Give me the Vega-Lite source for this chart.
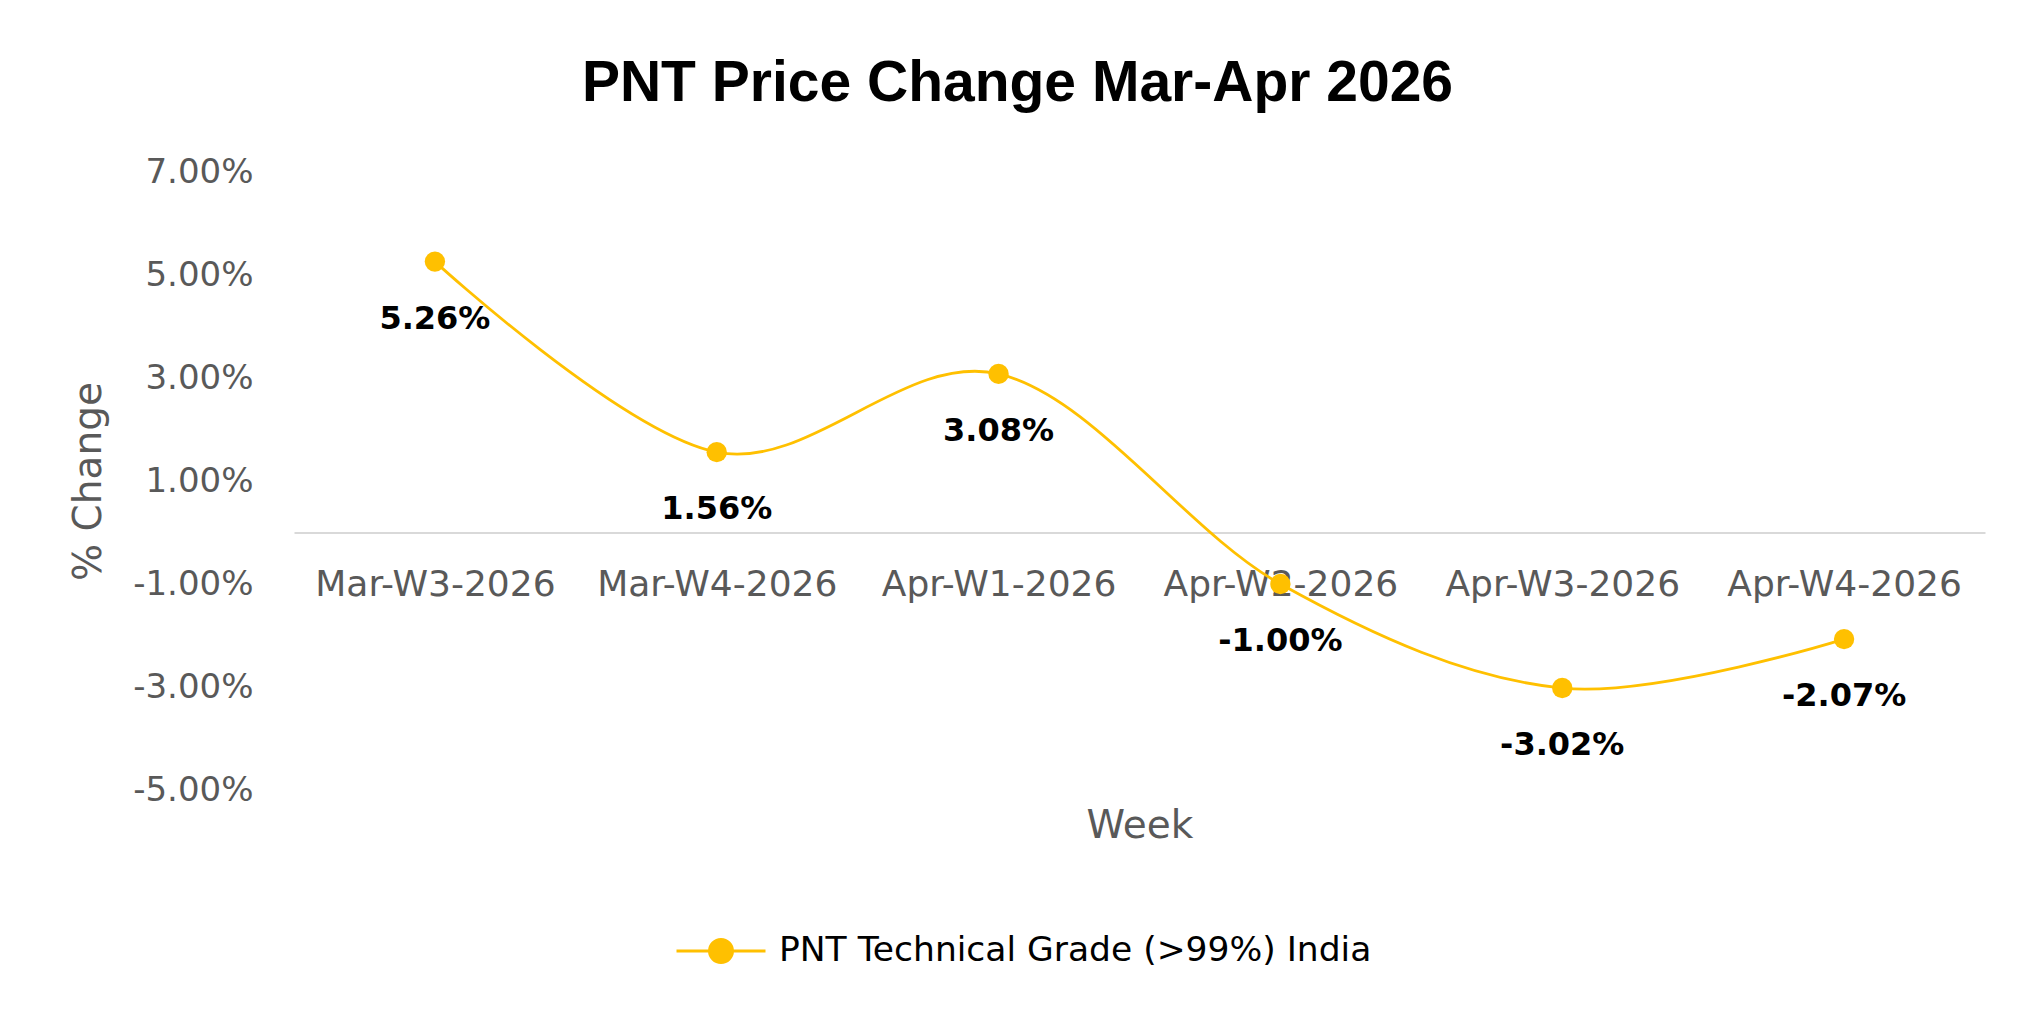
{
  "$schema": "https://vega.github.io/schema/vega-lite/v6.json",
  "width": 1691,
  "height": 618,
  "autosize": {"type": "none"},
  "padding": {"left": 294, "top": 172, "right": 52, "bottom": 228},
  "background": "white",
  "title": {
    "text": "PNT Price Change Mar-Apr 2026",
    "font": "Liberation Sans",
    "fontSize": 57,
    "fontWeight": "bold",
    "color": "#000000",
    "anchor": "middle",
    "frame": "group",
    "dx": -122,
    "offset": -3,
    "baseline": "alphabetic"
  },
  "data": {
    "values": [
      {"week": "Mar-W3-2026", "change": 0.0526, "series": "PNT Technical Grade (>99%) India"},
      {"week": "Mar-W4-2026", "change": 0.0156, "series": "PNT Technical Grade (>99%) India"},
      {"week": "Apr-W1-2026", "change": 0.0308, "series": "PNT Technical Grade (>99%) India"},
      {"week": "Apr-W2-2026", "change": -0.0100, "series": "PNT Technical Grade (>99%) India"},
      {"week": "Apr-W3-2026", "change": -0.0302, "series": "PNT Technical Grade (>99%) India"},
      {"week": "Apr-W4-2026", "change": -0.0207, "series": "PNT Technical Grade (>99%) India"}
    ]
  },
  "encoding": {
    "x": {
      "field": "week",
      "type": "ordinal",
      "sort": null,
      "scale": {"type": "point", "padding": 0.5},
      "axis": {
        "orient": "bottom",
        "offset": -257.5,
        "domain": true,
        "domainColor": "#d9d9d9",
        "domainWidth": 2,
        "ticks": false,
        "grid": false,
        "labelAngle": 0,
        "labelLimit": 0,
        "labelPadding": 35,
        "labelFont": "DejaVu Sans",
        "labelFontSize": 36,
        "labelColor": "#595959",
        "title": "Week",
        "titleFont": "DejaVu Sans",
        "titleFontSize": 39,
        "titleFontWeight": "normal",
        "titleColor": "#595959",
        "titleY": 293,
        "titleBaseline": "middle"
      }
    },
    "y": {
      "field": "change",
      "type": "quantitative",
      "scale": {"domain": [-0.05, 0.07], "nice": false, "zero": false},
      "axis": {
        "values": [-0.05, -0.03, -0.01, 0.01, 0.03, 0.05, 0.07],
        "format": ".2%",
        "domain": false,
        "ticks": false,
        "grid": false,
        "labelLimit": 0,
        "labelPadding": 41,
        "labelFont": "DejaVu Sans",
        "labelFontSize": 34,
        "labelColor": "#595959",
        "title": "% Change",
        "titleFont": "DejaVu Sans",
        "titleFontSize": 39,
        "titleFontWeight": "normal",
        "titleColor": "#595959",
        "titleX": -206,
        "titleY": 309,
        "titleAngle": 270,
        "titleAlign": "center",
        "titleBaseline": "middle"
      }
    }
  },
  "layer": [
    {
      "mark": {"type": "line", "interpolate": "cardinal", "strokeWidth": 2.8},
      "encoding": {
        "color": {
          "field": "series",
          "type": "nominal",
          "scale": {"range": ["#FFC000"]},
          "legend": {
            "orient": "none",
            "legendX": 381,
            "legendY": 733,
            "title": null,
            "padding": 0,
            "symbolType": "M-1,0H1M0.26,0A0.26,0.26,0,1,1,-0.26,0A0.26,0.26,0,1,1,0.26,0Z",
            "symbolSize": 7921,
            "symbolStrokeWidth": 2.8,
            "symbolFillColor": "#FFC000",
            "symbolStrokeColor": "#FFC000",
            "labelFont": "DejaVu Sans",
            "labelFontSize": 34.5,
            "labelColor": "#000000",
            "labelLimit": 0,
            "labelOffset": 12
          }
        }
      }
    },
    {
      "mark": {"type": "point", "filled": true, "size": 415, "opacity": 1},
      "encoding": {
        "color": {"field": "series", "type": "nominal", "scale": {"range": ["#FFC000"]}}
      }
    },
    {
      "mark": {
        "type": "text",
        "dy": 57,
        "baseline": "middle",
        "align": "center",
        "font": "DejaVu Sans",
        "fontSize": 32,
        "fontWeight": "bold",
        "color": "#000000"
      },
      "encoding": {
        "text": {"field": "change", "type": "quantitative", "format": ".2%"}
      }
    }
  ],
  "config": {
    "view": {"stroke": null},
    "locale": {
      "number": {
        "decimal": ".",
        "thousands": ",",
        "grouping": [3],
        "currency": ["$", ""],
        "minus": "-"
      }
    }
  }
}
